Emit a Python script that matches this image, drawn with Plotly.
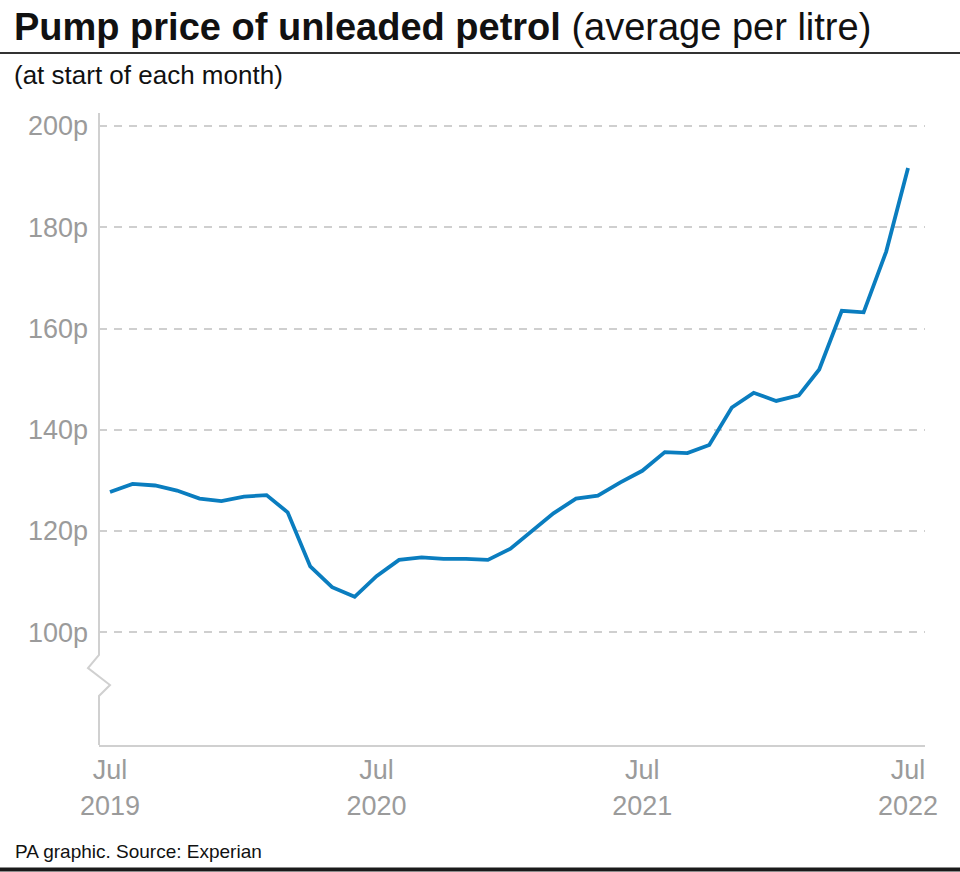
import plotly.graph_objects as go
import pandas as pd

# ---- data ----
months = [d.strftime("%Y-%m-%d") for d in pd.date_range("2019-07-01", "2022-07-01", freq="MS")]
prices = [127.7, 129.3, 129.0, 128.0, 126.4, 125.9,
          126.8, 127.1, 123.7, 113.0, 108.9, 107.0, 111.1, 114.3, 114.8, 114.5, 114.5, 114.3,
          116.5, 120.2, 123.5, 126.4, 127.0, 129.6, 131.9, 135.6, 135.4, 137.0, 144.4, 147.3,
          145.7, 146.8, 151.9, 163.5, 163.2, 175.2, 191.7]
x_tick_vals = ["2019-07-01", "2020-07-01", "2021-07-01", "2022-07-01"]
x_tick_text = ["Jul<br>2019", "Jul<br>2020", "Jul<br>2021", "Jul<br>2022"]
y_tick_vals = [100, 120, 140, 160, 180, 200]
y_tick_text = ["100p", "120p", "140p", "160p", "180p", "200p"]

title_bold = "Pump price of unleaded petrol"
title_rest = " (average per litre)"
subtitle = "(at start of each month)"
footer = "PA graphic. Source: Experian"

# ---- layout geometry (pixels) ----
W, H = 960, 872
L, R, T, B = 99, 35, 113, 127
PW, PH = W - L - R, H - T - B

def px(xp):
    return (xp - L) / PW

def py(yp):
    return (H - B - yp) / PH

FONT = "Liberation Sans, Arial, sans-serif"
GRAY = "#9b9b9b"
AXIS = "#d0d0d0"

fig = go.Figure()
fig.add_trace(go.Scatter(
    x=months, y=prices, mode="lines",
    line=dict(color="#0a7dbf", width=3.8),
    hoverinfo="skip", showlegend=False, cliponaxis=False,
))

fig.update_layout(
    width=W, height=H, autosize=False,
    margin=dict(l=L, r=R, t=T, b=B, pad=0),
    paper_bgcolor="white", plot_bgcolor="white",
    font=dict(family=FONT, color=GRAY),
    xaxis=dict(
        type="date",
        range=["2019-06-15 21:30", "2022-07-24 07:00"],
        tickvals=x_tick_vals, ticktext=x_tick_text,
        showgrid=False, zeroline=False,
        showline=True, linecolor=AXIS, linewidth=2,
        ticks="", tickfont=dict(size=27, color=GRAY, family=FONT),
    ),
    yaxis=dict(
        range=[77.74, 202.57],
        tickvals=y_tick_vals, ticktext=y_tick_text,
        showgrid=True, gridcolor="#cfcfcf", gridwidth=1.5, griddash="8px,7px",
        zeroline=False, showline=False,
        ticks="", ticklabelstandoff=10,
        tickfont=dict(size=27, color=GRAY, family=FONT),
    ),
    shapes=[
        # y axis with break
        dict(type="path", xref="paper", yref="paper",
             path=(f"M {px(99)},{py(113)} L {px(99)},{py(655)} L {px(88)},{py(668)} "
                   f"L {px(110)},{py(685)} L {px(99)},{py(696)} L {px(99)},{py(745)}"),
             line=dict(color=AXIS, width=2), layer="below"),
        # rule under title
        dict(type="line", xref="paper", yref="paper",
             x0=px(0), x1=px(W), y0=py(53), y1=py(53),
             line=dict(color="#333333", width=2)),
        # bottom rule
        dict(type="line", xref="paper", yref="paper",
             x0=px(0), x1=px(W), y0=py(869.5), y1=py(869.5),
             line=dict(color="#1a1a1a", width=4)),
    ],
    annotations=[
        dict(text=f"<b>{title_bold}</b>{title_rest}", xref="paper", yref="paper",
             x=px(12), y=py(27), xanchor="left", yanchor="middle", showarrow=False,
             font=dict(size=38, color="#111111", family=FONT)),
        dict(text=subtitle, xref="paper", yref="paper",
             x=px(12), y=py(75), xanchor="left", yanchor="middle", showarrow=False,
             font=dict(size=26, color="#111111", family=FONT)),
        dict(text=footer, xref="paper", yref="paper",
             x=px(13), y=py(851), xanchor="left", yanchor="middle", showarrow=False,
             font=dict(size=19, color="#111111", family=FONT)),
    ],
)

fig.write_html("out.html")
